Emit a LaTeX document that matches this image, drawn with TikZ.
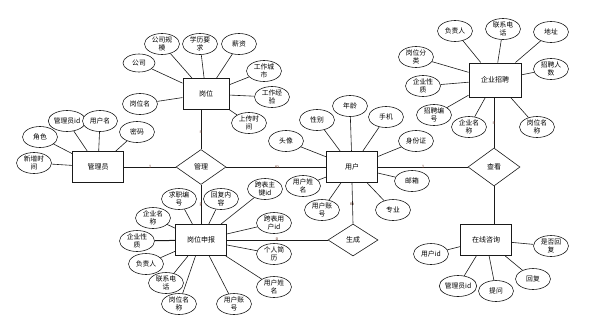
\documentclass[tikz,border=0pt]{standalone}
\usepackage{fontspec}
\usepackage{tikz}
\usepackage{xcolor}
\usetikzlibrary{positioning,shapes.geometric}
\setmainfont{Noto Sans CJK SC}
\definecolor{ink}{HTML}{1A1A1A}
\definecolor{card}{HTML}{6A3A2A}
\tikzset{
  entity/.style={draw=ink, fill=white, line width=1pt, minimum width=51pt,
                 minimum height=31pt, inner sep=1pt, font=\fontsize{7}{8}\selectfont},
  attr/.style={draw=ink, fill=white, ellipse, line width=0.6pt, minimum width=35pt,
               minimum height=21pt, inner sep=0pt, align=center,
               font=\fontsize{6.8}{7.4}\selectfont},
  rel/.style={draw=ink, fill=white, diamond, line width=0.6pt, minimum width=50pt,
              minimum height=35pt, inner sep=0pt, font=\fontsize{7}{8}\selectfont},
  link/.style={draw=ink, line width=0.6pt},
  cardlbl/.style={inner sep=0pt, text=card, font=\fontsize{4.5}{4.5}\selectfont}
}
\begin{document}
\begin{tikzpicture}[x=1pt,y=-1pt]
        \useasboundingbox (0,0) rectangle (604,327);

        % entities
        \node[entity,minimum width=46pt] (gw) at (206,94) {岗位};
        \node[entity] (gly)  at (98,167)  {管理员};
        \node[entity] (yh)   at (352,167) {用户};
        \node[entity,minimum width=52pt,minimum height=34pt] (qyzp) at (495,80) {企业招聘};
        \node[entity] (gwsb) at (201,240) {岗位申报};
        \node[entity] (zxzx) at (486,240) {在线咨询};

        % relationships
        \node[rel] (gl) at (201,167) {管理};
        \node[rel,minimum width=52pt,minimum height=38pt] (ck) at (494,167) {查看};
        \node[rel,minimum height=32pt] (sc) at (353,240) {生成};

        % relationship links
        \draw[link] (gl.north) -- (gl.north |- gw.south);
        \draw[link] (gly.east) -- (gl.west);
        \draw[link] (gl.east) -- (yh.west);
        \draw[link] (gl.south) -- (gwsb.north);
        \draw[link] (gwsb.east) -- (sc.west);
        \draw[link] (yh.south) -- (sc.north);
        \draw[link] (yh.east) -- (ck.west);
        \draw[link] (ck.north) -- (ck.north |- qyzp.south);
        \draw[link,line width=1pt] (ck.south) -- (ck.south |- zxzx.north);

        % cardinalities
        \node[cardlbl] (c1) at (201,132) {n};
        \node[cardlbl] (c2) at (150,167) {1};
        \node[cardlbl] (c3) at (277,167) {m};
        \node[cardlbl] (c4) at (201,205) {p};
        \node[cardlbl] (c5) at (277,240) {p};
        \node[cardlbl] (c6) at (352,204) {m};
        \node[cardlbl] (c7) at (423,167) {1};
        \node[cardlbl] (c8) at (494,123) {n};

        % 岗位 attributes
        \node[attr,minimum width=32pt,minimum height=18pt] (gwgs)   at (139,63)  {公司};
        \node[attr] (gwgm)   at (162,44)  {公司规\\模};
        \node[attr] (gwxl)   at (200,44)  {学历要\\求};
        \node[attr] (gwxz)   at (239,44)  {薪资};
        \node[attr] (gwcs)   at (264,71)  {工作城\\市};
        \node[attr] (gwjy)   at (272,97)  {工作经\\验};
        \node[attr] (gwsj)   at (249,123) {上传时\\间};
        \node[attr] (gwmc)   at (140,104) {岗位名};
        \draw[link] (gw) -- (gwgs);
        \draw[link] (gw) -- (gwgm);
        \draw[link] (gw) -- (gwxl);
        \draw[link] (gw) -- (gwxz);
        \draw[link] (gw) -- (gwcs);
        \draw[link] (gw) -- (gwjy);
        \draw[link] (gw) -- (gwsj);
        \draw[link] (gw) -- (gwmc);

        % 管理员 attributes
        \node[attr] (glyid) at (67,121)  {管理员id};
        \node[attr] (glyyh) at (100,121) {用户名};
        \node[attr] (glymm) at (137,132) {密码};
        \node[attr] (glyjs) at (40,137)  {角色};
        \node[attr] (glysj) at (34,163)  {新增时\\间};
        \draw[link] (gly) -- (glyid);
        \draw[link] (gly) -- (glyyh);
        \draw[link] (gly) -- (glymm);
        \draw[link] (gly) -- (glyjs);
        \draw[link] (gly) -- (glysj);

        % 用户 attributes
        \node[attr] (yhtx) at (286,141) {头像};
        \node[attr] (yhxb) at (317,120) {性别};
        \node[attr] (yhnl) at (350,106) {年龄};
        \node[attr] (yhsj) at (386,117) {手机};
        \node[attr] (yhsf) at (416,141) {身份证};
        \node[attr] (yhyx) at (412,181) {邮箱};
        \node[attr] (yhzy) at (393,210) {专业};
        \node[attr] (yhzh) at (322,210) {用户账\\号};
        \node[attr] (yhxm) at (303,186) {用户姓\\名};
        \draw[link] (yh) -- (yhtx);
        \draw[link] (yh) -- (yhxb);
        \draw[link] (yh) -- (yhnl);
        \draw[link] (yh) -- (yhsj);
        \draw[link] (yh) -- (yhsf);
        \draw[link] (yh) -- (yhyx);
        \draw[link] (yh) -- (yhzy);
        \draw[link] (yh) -- (yhzh);
        \draw[link] (yh) -- (yhxm);

        % 企业招聘 attributes
        \node[attr] (zpfz) at (455,31)  {负责人};
        \node[attr] (zpdh) at (503,29)  {联系电\\话};
        \node[attr] (zpdz) at (551,32)  {地址};
        \node[attr] (zprs) at (551,69)  {招聘人\\数};
        \node[attr] (zpgw) at (537,127) {岗位名\\称};
        \node[attr] (zpqy) at (469,127) {企业名\\称};
        \node[attr] (zpbh) at (434,115) {招聘编\\号};
        \node[attr] (zpxz) at (423,86)  {企业性\\质};
        \node[attr] (zpfl) at (416,57)  {岗位分\\类};
        \draw[link] (qyzp) -- (zpfz);
        \draw[link] (qyzp) -- (zpdh);
        \draw[link] (qyzp) -- (zpdz);
        \draw[link] (qyzp) -- (zprs);
        \draw[link] (qyzp) -- (zpgw);
        \draw[link] (qyzp) -- (zpqy);
        \draw[link] (qyzp) -- (zpbh);
        \draw[link] (qyzp) -- (zpxz);
        \draw[link] (qyzp) -- (zpfl);

        % 岗位申报 attributes
        \node[attr] (sbqz) at (179,199) {求职编\\号};
        \node[attr] (sbhf) at (221,199) {回复内\\容};
        \node[attr] (sbzj) at (265,189) {跨表主\\键id};
        \node[attr] (sbyh) at (274,223) {跨表用\\户id};
        \node[attr] (sbjl) at (274,254) {个人简\\历};
        \node[attr] (sbxm) at (274,287) {用户姓\\名};
        \node[attr] (sbzh) at (234,304) {用户账\\号};
        \node[attr] (sbgw) at (179,304) {岗位名\\称};
        \node[attr] (sbdh) at (166,283) {联系电\\话};
        \node[attr] (sbfz) at (146,264) {负责人};
        \node[attr] (sbxz) at (137,241) {企业性\\质};
        \node[attr] (sbqy) at (153,218) {企业名\\称};
        \draw[link] (gwsb) -- (sbqz);
        \draw[link] (gwsb) -- (sbhf);
        \draw[link] (gwsb) -- (sbzj);
        \draw[link] (gwsb) -- (sbyh);
        \draw[link] (gwsb) -- (sbjl);
        \draw[link] (gwsb) -- (sbxm);
        \draw[link] (gwsb) -- (sbzh);
        \draw[link] (gwsb) -- (sbgw);
        \draw[link] (gwsb) -- (sbdh);
        \draw[link] (gwsb) -- (sbfz);
        \draw[link,line width=1pt] (gwsb) -- (sbxz);
        \draw[link] (gwsb) -- (sbqy);

        % 在线咨询 attributes
        \node[attr] (zxyh) at (431,254) {用户id};
        \node[attr] (zxgl) at (458,286) {管理员id};
        \node[attr] (zxtw) at (496,291) {提问};
        \node[attr] (zxhf) at (533,279) {回复};
        \node[attr] (zxsf) at (551,246) {是否回\\复};
        \draw[link] (zxzx) -- (zxyh);
        \draw[link] (zxzx) -- (zxgl);
        \draw[link] (zxzx) -- (zxtw);
        \draw[link] (zxzx) -- (zxhf);
        \draw[link] (zxzx) -- (zxsf);
      \end{tikzpicture}
\end{document}
